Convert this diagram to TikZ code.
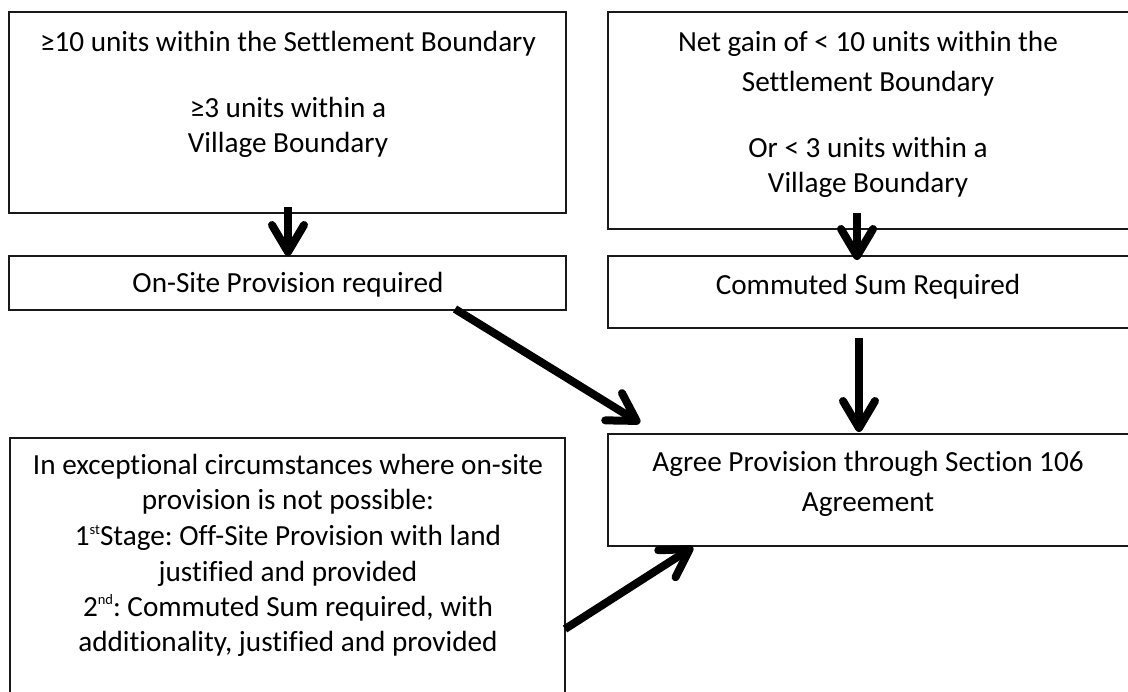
\documentclass[tikz,border=0pt]{standalone}
\usepackage{fontspec}
\setmainfont{Carlito}[Ligatures={NoCommon}]
\usetikzlibrary{arrows.meta,calc}
\newcommand{\supx}[1]{\raisebox{12pt}{\fontsize{14.5pt}{14.5pt}\selectfont #1}}
\frenchspacing
\begin{document}
\begin{tikzpicture}[x=1pt,y=-1pt,
  box/.style={draw=black!90, line width=1.3pt, inner sep=0pt, outer sep=0pt},
  txt/.style={anchor=base, inner sep=0pt, font=\fontsize{29.2pt}{35.6pt}\selectfont},
  bigarrow/.style={line width=8pt, -{Straight Barb[length=27pt,width=32pt,round]}},
]
\useasboundingbox (0,0) rectangle (1128,692);
\clip (0,0) rectangle (1128,692);
\fill[white] (0,0) rectangle (1128,692);
% boxes
\node[box, minimum width=557pt, minimum height=201pt] (b1) at (287.5,112.5) {};
\node[box, minimum width=557pt, minimum height=54pt] (b2) at (287.5,283) {};
\node[box, minimum width=532pt, minimum height=217pt] (b3) at (874,120.5) {};
\node[box, minimum width=532pt, minimum height=72pt] (b4) at (874,292) {};
\node[box, minimum width=532pt, minimum height=112pt] (b5) at (874,490) {};
\node[box, minimum width=555pt, minimum height=282pt] (b6) at (287.5,579) {};
% texts
\node[txt] (t1a) at (288,52) {≥10 units within the Settlement Boundary};
\node[txt] (t1b) at (288,118) {≥3 units within a};
\node[txt] (t1c) at (288,153) {Village Boundary};
\node[txt] (t2) at (288,293) {On-Site Provision required};
\node[txt] (t3a) at (868,52) {Net gain of < 10 units within the};
\node[txt] (t3b) at (868,92) {Settlement Boundary};
\node[txt] (t3c) at (868,158) {Or < 3 units within a};
\node[txt] (t3d) at (868,193) {Village Boundary};
\node[txt] (t4) at (868,295) {Commuted Sum Required};
\node[txt] (t5a) at (868,472) {Agree Provision through Section 106};
\node[txt] (t5b) at (868,512) {Agreement};
\node[txt] (t6a) at (288,475) {In exceptional circumstances where on-site};
\node[txt] (t6b) at (288,510) {provision is not possible:};
\node[txt] (t6c) at (288,546) {1\supx{st}Stage: Off-Site Provision with land};
\node[txt] (t6d) at (288,581) {justified and provided};
\node[txt] (t6e) at (288,616) {2\supx{nd}: Commuted Sum required, with};
\node[txt] (t6f) at (288,651) {additionality, justified and provided};
% arrow end points
\coordinate (a1s) at ($(b1.south)+(0.5,-6)$);
\coordinate (a1e) at ($(b2.north)+(0.5,0)$);
\coordinate (a2s) at ($(b3.south west)+(249,-16)$);
\coordinate (a2e) at ($(b4.north west)+(249,4)$);
\coordinate (a3s) at ($(b2.south east)+(-111,-1)$);
\coordinate (a3e) at ($(b5.north west)+(32,-11)$);
\coordinate (a4s) at ($(b4.south west)+(251,10)$);
\coordinate (a4e) at ($(b5.north west)+(251,-2)$);
\coordinate (a5s) at ($(b6.north east)+(0,191)$);
\coordinate (a5e) at ($(b5.south west)+(85,1)$);
% arrows
\draw[bigarrow] (a1s) -- (a1e);
\draw[bigarrow] (a2s) -- (a2e);
\draw[bigarrow] (a3s) -- (a3e);
\draw[bigarrow] (a4s) -- (a4e);
\draw[bigarrow] (a5s) -- (a5e);
\end{tikzpicture}
\end{document}
